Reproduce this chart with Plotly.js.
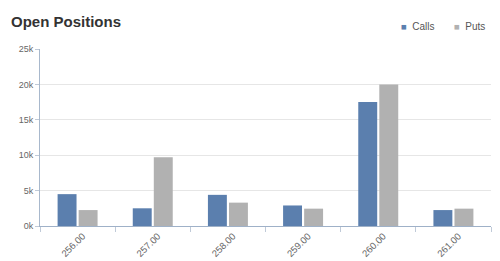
<!DOCTYPE html>
<html>
<head>
<meta charset="utf-8">
<script src="https://cdn.plot.ly/plotly-3.0.1.min.js"></script>
<style>html,body{margin:0;padding:0;background:#fff;}#chart{width:500px;height:261px;}</style>
</head>
<body>
<div id="chart"></div>
<script>
const strikes = ["256.00", "257.00", "258.00", "259.00", "260.00", "261.00"];
const calls = [4500, 2500, 4400, 2900, 17500, 2250];
const puts = [2250, 9700, 3300, 2450, 20000, 2450];
const yTickVals = [0, 5000, 10000, 15000, 20000, 25000];
const yTickText = ["0k", "5k", "10k", "15k", "20k", "25k"];
const seriesNames = ["Calls", "Puts"];
const seriesColors = ["#5b7fae", "#b1b1b1"];
const seriesValues = [calls, puts];

const data = seriesNames.map((n, i) => ({
  type: "bar", name: n, x: strikes, y: seriesValues[i], marker: {color: seriesColors[i]}
}));
const legendX = [0.796, 0.913];
const annotations = seriesNames.map((n, i) => ({
  xref: "paper", yref: "paper", x: legendX[i], y: 1.125, showarrow: false,
  text: "<span style='color:" + seriesColors[i] + ";font-size:9.5px'>■</span>&nbsp; " + n,
  font: {size: 10, color: "#555", family: "Liberation Sans, Arial, sans-serif"},
  xanchor: "left", yanchor: "middle"
}));

const layout = {
  width: 500, height: 261,
  margin: {l: 40, r: 9, t: 49, b: 35},
  paper_bgcolor: "#fff", plot_bgcolor: "#fff",
  font: {family: "Liberation Sans, Arial, sans-serif", color: "#666", size: 9},
  title: {text: "<b>Open Positions</b>", font: {size: 15, color: "#333"}, xref: "container", x: 0.022, xanchor: "left", yref: "container", y: 0.915, yanchor: "middle"},
  barmode: "group", bargap: 0.44, bargroupgap: 0.1,
  showlegend: false,
  annotations: annotations,
  xaxis: {type: "category", tickangle: -45, tickson: "boundaries", ticks: "outside", ticklen: 5, tickcolor: "#c0cad8", showline: true, linecolor: "#9fb1c8", linewidth: 1, showgrid: false, ticklabelshift: 5, tickfont: {size: 9.5, color: "#666"}},
  yaxis: {range: [0, 25000], tickvals: yTickVals, ticktext: yTickText, showline: true, linecolor: "#a8b8cc", linewidth: 1, gridcolor: "#e6e6e6", zeroline: false, ticks: "outside", ticklen: 4, tickcolor: "#c0cad8", tickfont: {size: 9, color: "#666"}}
};
Plotly.newPlot("chart", data, layout, {displayModeBar: false, staticPlot: true});
</script>
</body>
</html>
